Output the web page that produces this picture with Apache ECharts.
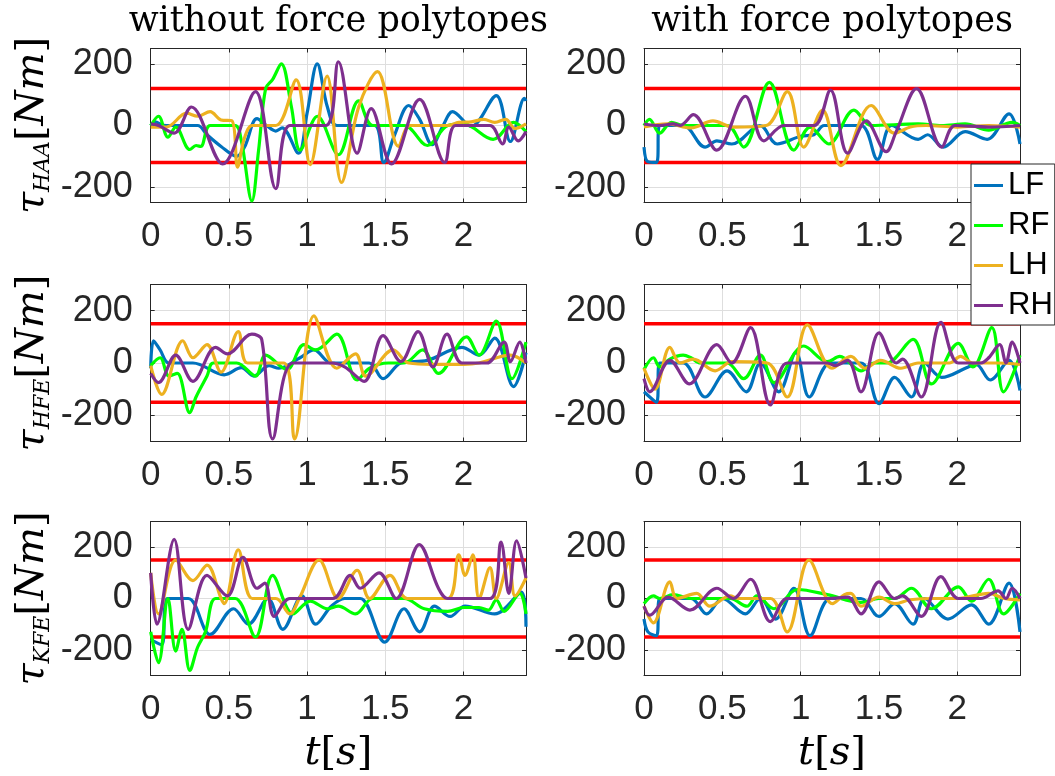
<!DOCTYPE html>
<html><head><meta charset="utf-8">
<script src="https://cdn.jsdelivr.net/npm/echarts@6/dist/echarts.min.js"></script>
<style>html,body{margin:0;padding:0;background:#fff}#c{width:1055px;height:776px}</style>
</head><body><div id="c"></div>
<script>
// ---------- labels / settings ----------
const seriesNames = ['LF', 'RF', 'LH', 'RH'];
const seriesColors = ['#0072BD', '#00FF00', '#EDB120', '#7E2F8E'];
const columnTitles = ['without force polytopes', 'with force polytopes'];
const jointNames = ['HAA', 'HFE', 'KFE'];
const yHalfRanges = [250, 300, 300];
const torqueLimits = [120, 150, 150];
const yTickStep = 200;
const tMin = 0, tMax = 2.4, tStep = 0.5;

// ---------- data: [t (s), torque (Nm)] ----------
// HAA, without force polytopes
const HAA_without_LF = [[0,0],[0.03,12],[0.07,2],[0.1,0],[0.3,0],[0.36,-30],[0.45,-68],[0.55,-100],[0.6,-70],[0.68,22],[0.74,0],[0.8,-18],[0.84,-8],[0.945,-90],[1.0,40],[1.065,200],[1.13,60],[1.19,0],[1.43,0],[1.49,-120],[1.56,-30],[1.65,65],[1.72,20],[1.8,-62],[1.87,0],[1.93,45],[2.05,-3],[2.21,97],[2.3,-52],[2.39,88],[2.4,80]];
const HAA_without_RF = [[0,0],[0.05,30],[0.11,-38],[0.16,-5],[0.25,-78],[0.29,-65],[0.32,-68],[0.38,0],[0.54,0],[0.58,-50],[0.647,-245],[0.69,-80],[0.735,120],[0.78,150],[0.835,200],[0.9,60],[0.955,-80],[1.066,30],[1.2,-95],[1.33,80],[1.42,0],[1.62,0],[1.77,-65],[1.9,0],[2.0,5],[2.19,-45],[2.32,10],[2.4,-20]];
const HAA_without_LH = [[0,-5],[0.1,-5],[0.23,40],[0.3,30],[0.38,45],[0.45,18],[0.52,15],[0.555,-135],[0.6,-40],[0.65,0],[0.8,0],[0.93,148],[1.02,-127],[1.128,160],[1.22,-185],[1.33,60],[1.45,175],[1.585,-68],[1.66,0],[1.9,0],[1.97,10],[2.05,12],[2.13,20],[2.2,10],[2.27,20],[2.33,-10],[2.4,5]];
const HAA_without_RH = [[0,5],[0.05,0],[0.15,-25],[0.26,60],[0.46,-125],[0.67,110],[0.8,-205],[0.89,0],[1.12,0],[1.2,207],[1.32,-90],[1.41,55],[1.54,-125],[1.72,85],[1.88,-120],[1.95,0],[2.17,0],[2.25,-60],[2.29,-5],[2.35,-50],[2.4,-20]];
// HAA, with force polytopes
const HAA_with_LF = [[0,-70],[0.025,-118],[0.08,-120],[0.1,0],[0.25,0],[0.39,-70],[0.465,-50],[0.56,-60],[0.74,0],[0.85,-60],[1.0,-35],[1.085,-30],[1.15,0],[1.385,0],[1.49,-110],[1.58,0],[1.75,-45],[1.81,-30],[1.91,-70],[2.05,-20],[2.19,-45],[2.33,38],[2.4,-60]];
const HAA_with_RF = [[0,0],[0.035,20],[0.1,-25],[0.175,10],[0.25,0],[0.53,0],[0.636,-70],[0.8,140],[0.957,-80],[1.06,-5],[1.18,-60],[1.34,50],[1.45,0],[1.75,5],[1.9,0],[2.05,5],[2.2,-15],[2.35,10],[2.4,0]];
const HAA_with_LH = [[0,-5],[0.15,5],[0.3,-8],[0.44,15],[0.57,-5],[0.78,0],[0.915,110],[1.02,-70],[1.14,50],[1.257,-130],[1.45,65],[1.6,-25],[1.7,-5],[1.8,0],[2.0,-5],[2.2,0],[2.4,-5]];
const HAA_with_RH = [[0,5],[0.1,0],[0.186,5],[0.23,0],[0.315,35],[0.465,-80],[0.647,95],[0.765,-50],[0.893,0],[1.085,0],[1.19,115],[1.3,-90],[1.418,15],[1.546,-85],[1.61,-20],[1.74,120],[1.9,-70],[1.985,0],[2.2,-5],[2.4,0]];
// HFE, without force polytopes
const HFE_without_LF = [[0,-20],[0.018,85],[0.06,50],[0.117,0],[0.27,0],[0.47,-45],[0.58,-18],[0.66,-50],[0.757,-10],[0.82,-20],[0.955,20],[1.044,50],[1.155,0],[1.397,0],[1.486,-60],[1.6,0],[1.77,10],[1.99,60],[2.1,30],[2.2,95],[2.32,-90],[2.4,40]];
const HFE_without_RF = [[0,-10],[0.06,20],[0.117,-50],[0.17,-40],[0.25,-190],[0.29,-130],[0.36,-50],[0.4,0],[0.55,0],[0.67,-50],[0.735,30],[0.87,-25],[0.98,70],[1.055,50],[1.19,110],[1.32,-65],[1.4,-20],[1.52,0],[1.62,0],[1.74,50],[1.84,-40],[2.02,100],[2.1,30],[2.21,160],[2.31,-60],[2.4,80]];
const HFE_without_LH = [[0,-10],[0.07,-120],[0.205,85],[0.27,20],[0.36,70],[0.45,-35],[0.56,120],[0.62,0],[0.85,0],[0.92,-290],[1.044,180],[1.19,-20],[1.31,35],[1.375,-50],[1.55,50],[1.65,0],[1.8,-5],[2.0,-5],[2.1,0],[2.3,30],[2.4,0]];
const HFE_without_RH = [[0,-40],[0.05,-75],[0.16,30],[0.27,-70],[0.415,60],[0.49,35],[0.647,110],[0.71,90],[0.78,-290],[0.91,0],[1.155,0],[1.24,-15],[1.365,-70],[1.486,105],[1.6,5],[1.71,120],[1.805,-15],[1.895,110],[1.99,0],[2.15,0],[2.26,80],[2.3,5],[2.36,80],[2.4,0]];
// HFE, with force polytopes
const HFE_with_LF = [[0,-110],[0.08,-150],[0.1,0],[0.25,0],[0.39,-130],[0.53,-30],[0.653,-110],[0.743,0],[0.86,-110],[0.97,40],[1.055,-130],[1.19,0],[1.385,0],[1.5,-155],[1.6,-55],[1.707,-130],[1.79,0],[1.9,-55],[2.07,-15],[2.12,-5],[2.21,-65],[2.33,10],[2.4,-105]];
const HFE_with_RF = [[0,-25],[0.06,20],[0.1,-15],[0.165,15],[0.25,30],[0.3,20],[0.36,0],[0.53,0],[0.636,-60],[0.743,30],[0.83,-75],[1.02,65],[1.17,5],[1.25,25],[1.385,-30],[1.47,0],[1.55,0],[1.717,90],[1.835,-80],[2.006,75],[2.1,-15],[2.22,135],[2.295,-110],[2.4,30]];
const HFE_with_LH = [[0,-20],[0.07,-100],[0.165,60],[0.23,0],[0.315,15],[0.454,-30],[0.56,5],[0.786,0],[0.914,-130],[1.043,146],[1.2,-20],[1.32,25],[1.41,-20],[1.51,10],[1.64,-20],[1.75,0],[1.95,0],[2.02,25],[2.1,0],[2.25,0],[2.4,-5]];
const HFE_with_RH = [[0,-60],[0.036,-110],[0.165,10],[0.29,-80],[0.465,70],[0.56,0],[0.68,135],[0.807,-160],[0.914,0],[1.17,0],[1.22,-10],[1.3,10],[1.385,-110],[1.5,115],[1.61,0],[1.65,15],[1.77,-130],[1.895,155],[2.006,0],[2.15,0],[2.2,20],[2.27,70],[2.31,0],[2.35,80],[2.4,0]];
// KFE, without force polytopes
const KFE_without_LF = [[0,-160],[0.07,-180],[0.106,0],[0.24,0],[0.38,-140],[0.53,-40],[0.625,-100],[0.75,0],[0.845,-120],[0.967,10],[1.055,-100],[1.155,-30],[1.24,0],[1.34,0],[1.497,-170],[1.62,-40],[1.72,-130],[1.815,-30],[1.915,-70],[2.01,-30],[2.2,-60],[2.37,25],[2.4,-110]];
const KFE_without_RF = [[0,-130],[0.05,-250],[0.11,0],[0.16,-205],[0.2,-120],[0.25,-280],[0.3,-190],[0.35,-130],[0.415,0],[0.54,0],[0.67,-150],[0.78,90],[0.91,-60],[1.02,-10],[1.13,-40],[1.2,-30],[1.31,-60],[1.42,0],[1.62,0],[1.75,-40],[1.9,-50],[2.0,-35],[2.1,-35],[2.16,-45],[2.21,-5],[2.26,-50],[2.36,20],[2.4,-60]];
const KFE_without_LH = [[0,100],[0.05,-60],[0.16,150],[0.27,70],[0.36,130],[0.45,0],[0.47,-20],[0.56,190],[0.65,0],[0.8,0],[0.89,-60],[0.95,0],[1.077,150],[1.2,0],[1.32,110],[1.4,0],[1.53,90],[1.64,0],[1.9,0],[1.97,170],[2.01,90],[2.06,170],[2.1,0],[2.17,120],[2.21,0],[2.29,140],[2.33,10],[2.4,80]];
const KFE_without_RH = [[0,100],[0.04,-100],[0.15,230],[0.24,-120],[0.36,90],[0.49,10],[0.59,160],[0.68,40],[0.73,60],[0.79,-70],[0.89,0],[1.165,0],[1.276,90],[1.34,40],[1.46,100],[1.57,0],[1.717,210],[1.84,40],[1.9,0],[2.17,0],[2.24,220],[2.29,20],[2.34,225],[2.4,80]];
// KFE, with force polytopes
const KFE_with_LF = [[0,-80],[0.025,-130],[0.08,-145],[0.1,0],[0.3,0],[0.4,-60],[0.5,0],[0.647,-60],[0.743,0],[0.84,-80],[0.957,40],[1.06,-145],[1.19,0],[1.385,0],[1.5,-70],[1.6,-20],[1.717,-100],[1.79,0],[1.94,-80],[2.09,-25],[2.2,-100],[2.33,60],[2.4,-130]];
const KFE_with_RF = [[0,-20],[0.06,10],[0.1,0],[0.186,15],[0.3,0],[0.55,0],[0.657,-30],[0.72,10],[0.83,-40],[0.98,35],[1.17,15],[1.385,-15],[1.5,0],[1.6,0],[1.707,40],[1.835,-40],[2.006,45],[2.09,-10],[2.2,75],[2.295,-60],[2.4,20]];
const KFE_with_LH = [[0,-30],[0.06,-95],[0.165,65],[0.21,0],[0.336,20],[0.42,-30],[0.55,10],[0.6,0],[0.807,0],[0.914,-130],[1.053,150],[1.203,-20],[1.28,15],[1.32,20],[1.385,-30],[1.5,5],[1.6,-20],[1.7,-5],[1.85,0],[2.0,0],[2.2,20],[2.3,0],[2.4,-5]];
const KFE_with_RH = [[0,-30],[0.036,-65],[0.154,5],[0.293,-45],[0.465,40],[0.57,0],[0.68,75],[0.807,-90],[0.914,0],[1.17,0],[1.3,5],[1.385,-60],[1.5,65],[1.6,0],[1.65,10],[1.77,-70],[1.895,85],[2.006,0],[2.15,0],[2.26,30],[2.31,0],[2.35,40],[2.4,0]];

const panelData = [
  [[HAA_without_LF, HAA_without_RF, HAA_without_LH, HAA_without_RH], [HAA_with_LF, HAA_with_RF, HAA_with_LH, HAA_with_RH]],
  [[HFE_without_LF, HFE_without_RF, HFE_without_LH, HFE_without_RH], [HFE_with_LF, HFE_with_RF, HFE_with_LH, HFE_with_RH]],
  [[KFE_without_LF, KFE_without_RF, KFE_without_LH, KFE_without_RH], [KFE_with_LF, KFE_with_RF, KFE_with_LH, KFE_with_RH]]
];

// ---------- layout ----------
const colLeft = [150.7, 644], colWidth = [375.3, 376];
const rowTop = [48.5, 284.5, 521.5], rowHeight = [154, 157, 154];
const axisColor = '#262626', gridColor = '#dedede';
const sansFont = 'Liberation Sans';
const serifFont = 'DejaVu Serif';

const nameRich = {
  i: {fontFamily: serifFont, fontStyle: 'italic', fontSize: 40, lineHeight: 44, color: '#000', verticalAlign: 'middle'},
  r: {fontFamily: serifFont, fontSize: 40, lineHeight: 44, color: '#000', verticalAlign: 'middle'},
  s: {fontFamily: serifFont, fontStyle: 'italic', fontSize: 22, lineHeight: 20, color: '#000', verticalAlign: 'bottom'}
};

const grids = [], xAxes = [], yAxes = [], series = [];
let gi = 0;
for (let r = 0; r < 3; r++) {
  for (let c = 0; c < 2; c++) {
    grids.push({left: colLeft[c], top: rowTop[r], width: colWidth[c], height: rowHeight[r], outerBoundsMode: 'none', containLabel: false});
    const tickStyle = {show: true, inside: true, length: 4, lineStyle: {color: axisColor, width: 1}};
    const lineStyle = {show: true, onZero: false, lineStyle: {color: axisColor, width: 1}};
    const xb = {
      gridIndex: gi, type: 'value', min: tMin, max: tMax, interval: tStep, position: 'bottom',
      axisLine: lineStyle, axisTick: tickStyle,
      axisLabel: {fontFamily: sansFont, fontSize: 35, color: axisColor, margin: 16, showMaxLabel: false},
      splitLine: {show: true, lineStyle: {color: gridColor, width: 1}}
    };
    if (r === 2) {
      Object.assign(xb, {name: '{i|t}{r|[}{i|s}{r|]}', nameLocation: 'middle', nameGap: 56, nameTextStyle: {rich: nameRich}});
    }
    xAxes.push(xb);
    xAxes.push({gridIndex: gi, type: 'value', min: tMin, max: tMax, interval: tStep, position: 'top',
      axisLine: lineStyle, axisTick: tickStyle, axisLabel: {show: false}, splitLine: {show: false}});
    const yr = yHalfRanges[r];
    const yl = {
      gridIndex: gi, type: 'value', min: -yr, max: yr, minInterval: yTickStep, maxInterval: yTickStep, position: 'left',
      axisLine: lineStyle, axisTick: tickStyle,
      axisLabel: {fontFamily: sansFont, fontSize: 36, color: axisColor, margin: 18, showMinLabel: false, showMaxLabel: false},
      splitLine: {show: true, lineStyle: {color: gridColor, width: 1}}
    };
    if (c === 0) {
      Object.assign(yl, {name: '{i|τ}{s|' + jointNames[r] + '}{r|[}{i|Nm}{r|]}', nameLocation: 'middle', nameRotate: 90, nameGap: 96, nameTextStyle: {rich: nameRich}});
    }
    yAxes.push(yl);
    yAxes.push({gridIndex: gi, type: 'value', min: -yr, max: yr, minInterval: yTickStep, maxInterval: yTickStep, position: 'right',
      axisLine: lineStyle, axisTick: tickStyle, axisLabel: {show: false}, splitLine: {show: false}});

    const lim = torqueLimits[r];
    [lim, -lim].forEach(v => {
      series.push({type: 'line', xAxisIndex: 2 * gi, yAxisIndex: 2 * gi, data: [[tMin, v], [tMax, v]],
        symbol: 'none', silent: true, lineStyle: {color: '#FF0000', width: 3.5}, z: 2});
    });
    panelData[r][c].forEach((d, k) => {
      series.push({type: 'line', name: seriesNames[k], xAxisIndex: 2 * gi, yAxisIndex: 2 * gi, data: d,
        symbol: 'none', showSymbol: false, smooth: 0.35, clip: true,
        lineStyle: {color: seriesColors[k], width: 3.2}, itemStyle: {color: seriesColors[k]}, z: 3});
    });
    gi++;
  }
}

const option = {
  animation: false,
  backgroundColor: '#fff',
  grid: grids, xAxis: xAxes, yAxis: yAxes, series: series,
  legend: {
    data: seriesNames.map(n => ({name: n, icon: 'rect'})),
    orient: 'vertical', left: 971, top: 164,
    itemWidth: 29, itemHeight: 3, itemGap: 9,
    padding: [6, 2, 4, 3],
    backgroundColor: '#fff', borderColor: axisColor, borderWidth: 1, borderRadius: 0,
    textStyle: {fontFamily: sansFont, fontSize: 31, lineHeight: 31, color: '#000'},
    selectedMode: false, z: 10
  },
  graphic: columnTitles.map((t, c) => ({
    type: 'text', x: colLeft[c] + colWidth[c] / 2, y: 22,
    style: {text: t, font: '35px "' + serifFont + '"', fill: '#000',
      align: 'center', verticalAlign: 'middle', textAlign: 'center', textVerticalAlign: 'middle'}
  }))
};

const chart = echarts.init(document.getElementById('c'), null, {renderer: 'canvas'});
chart.setOption(option);
</script></body></html>
